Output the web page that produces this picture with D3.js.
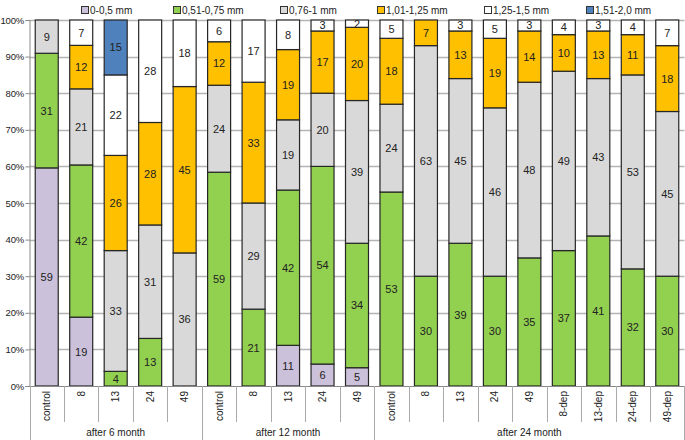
<!DOCTYPE html>
<html><head><meta charset="utf-8">
<script src="https://cdn.jsdelivr.net/npm/d3@7"></script>
<style>body{margin:0;background:#fff}svg{font-family:"Liberation Sans",Arial,sans-serif}</style>
</head><body><svg id="c" width="685" height="440"></svg>
<script>
const categories = ["control","8","13","24","49","control","8","13","24","49","control","8","13","24","49","8-dep","13-dep","24-dep","49-dep"];
const groups = [{name:"after 6 month",from:0,to:5},{name:"after 12 month",from:5,to:10},{name:"after 24 month",from:10,to:19}];
const seriesNames = ["0-0,5 mm","0,51-0,75 mm","0,76-1 mm","1,01-1,25 mm","1,25-1,5 mm","1,51-2,0 mm"];
const s0_05   = [59,19,0,0,0, 0,0,11,6,5, 0,0,0,0,0,0,0,0,0];
const s051_075= [31,42,4,13,0, 59,21,42,54,34, 53,30,39,30,35,37,41,32,30];
const s076_1  = [9,21,33,31,36, 24,29,19,20,39, 24,63,45,46,48,49,43,53,45];
const s101_125= [0,12,26,28,45, 12,33,19,17,20, 18,7,13,19,14,10,13,11,18];
const s125_15 = [0,7,22,28,18, 6,17,8,3,2, 5,0,3,5,3,4,3,4,7];
const s151_20 = [0,0,15,0,0, 0,0,0,0,0, 0,0,0,0,0,0,0,0,0];
const yTicks = [0,0.1,0.2,0.3,0.4,0.5,0.6,0.7,0.8,0.9,1];
const colors = ["#CCC1DA","#92D050","#D9D9D9","#FFC000","#FFFFFF","#4F81BD"];

const seriesValues = [s0_05,s051_075,s076_1,s101_125,s125_15,s151_20];
const table = categories.map((c,i)=>{const o={idx:i}; seriesNames.forEach((k,j)=>o[k]=seriesValues[j][i]); return o;});
const stack = d3.stack().keys(seriesNames).offset(d3.stackOffsetExpand)(table);

const svg = d3.select("#c");
const mLeft=29.5, mRight=684.5, mTop=20, mBottom=386;
const x = d3.scaleBand().domain(d3.range(categories.length)).range([mLeft,mRight]).paddingInner(0.333).paddingOuter(0.1667);
const y = d3.scaleLinear().domain([0,1]).range([mBottom,mTop]);

// gridlines
svg.append("g").selectAll("line").data(yTicks.slice(1)).join("line")
  .attr("x1",mLeft).attr("x2",mRight).attr("y1",d=>Math.round(y(d))+0.5).attr("y2",d=>Math.round(y(d))+0.5)
  .attr("stroke","#b4b4b4").attr("stroke-width",1.5);

// bars
const layers = svg.append("g").selectAll("g").data(stack).join("g").attr("fill",(d,i)=>colors[i]);
layers.selectAll("rect").data(d=>d.filter(p=>p[1]-p[0]>0)).join("rect")
  .attr("x",d=>x(d.data.idx)).attr("width",x.bandwidth())
  .attr("y",d=>y(d[1])).attr("height",d=>y(d[0])-y(d[1]))
  .attr("stroke","#262626").attr("stroke-width",1.2);

// labels
stack.forEach((layer,i)=>{
  svg.append("g").selectAll("text").data(layer.filter(p=>p[1]-p[0]>0)).join("text")
    .attr("x",d=>x(d.data.idx)+x.bandwidth()/2).attr("y",d=>(y(d[0])+y(d[1]))/2)
    .attr("dy","0.36em").attr("text-anchor","middle").attr("font-size",11).attr("fill","#222")
    .text(d=>d.data[layer.key]);
});

// y axis
const yAxis = svg.append("g").attr("transform",`translate(${mLeft},0)`)
  .call(d3.axisLeft(y).tickValues(yTicks).tickFormat(d3.format(".0%")).tickSize(4).tickPadding(1.5));
yAxis.select(".domain").attr("stroke","#888");
yAxis.selectAll(".tick line").attr("stroke","#888");
yAxis.selectAll("text").attr("font-size",9.5).attr("letter-spacing",-0.2).attr("fill","#222").attr("font-family","Liberation Sans, Arial, sans-serif");

// x axis baseline
svg.append("line").attr("x1",mLeft).attr("x2",mRight).attr("y1",mBottom+0.5).attr("y2",mBottom+0.5).attr("stroke","#888");
const step = x.step();
const bounds = d3.range(categories.length+1).map(i=> i<categories.length ? x(i)-step*x.paddingInner()/2 : x(i-1)+x.bandwidth()+step*x.paddingInner()/2);
const groupBounds = new Set(groups.flatMap(g=>[g.from,g.to]));
svg.append("g").selectAll("line").data(d3.range(categories.length+1)).join("line")
  .attr("x1",i=>Math.round(bounds[i])+0.5).attr("x2",i=>Math.round(bounds[i])+0.5)
  .attr("y1",mBottom).attr("y2",i=>groupBounds.has(i)?440:422)
  .attr("stroke","#aaa").attr("stroke-width",1);

// category labels
svg.append("g").selectAll("text").data(categories).join("text")
  .attr("transform",(d,i)=>`translate(${x(i)+x.bandwidth()/2+3.5},391) rotate(-90)`)
  .attr("text-anchor","end").attr("font-size",10).attr("fill","#222").text(d=>d);

// group labels
svg.append("g").selectAll("text").data(groups).join("text")
  .attr("x",g=>(bounds[g.from]+bounds[g.to])/2).attr("y",436)
  .attr("text-anchor","middle").attr("font-size",10).attr("fill","#222").text(g=>g.name);

// legend
const legX = [81,173,280,377,484,586];
const leg = svg.append("g").selectAll("g").data(seriesNames).join("g").attr("transform",(d,i)=>`translate(${legX[i]},0)`);
leg.append("rect").attr("x",0.5).attr("y",6.5).attr("width",7).attr("height",7).attr("fill",(d,i)=>colors[i]).attr("stroke","#333");
leg.append("text").attr("x",9).attr("y",14).attr("font-size",10).attr("fill","#222").text(d=>d);
</script></body></html>
